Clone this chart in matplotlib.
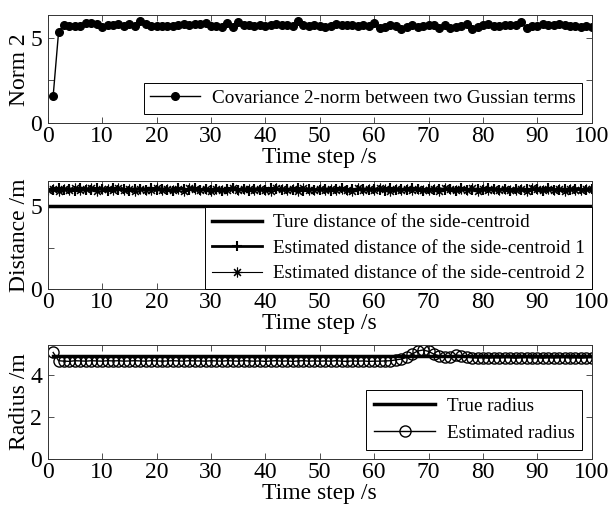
import matplotlib
matplotlib.use("Agg")
import matplotlib.pyplot as plt

plt.rcParams['font.family'] = ['Liberation Serif', 'DejaVu Serif']

# 上: 两个高斯项之间的协方差 2-范数
norm_t = list(range(1, 101))
norm_vals = [1.60, 5.35, 5.75, 5.70, 5.70, 5.70, 5.85, 5.85, 5.80, 5.60,
             5.75, 5.75, 5.80, 5.65, 5.80, 5.70, 5.95, 5.80, 5.65, 5.70,
             5.70, 5.70, 5.70, 5.75, 5.80, 5.75, 5.80, 5.80, 5.85, 5.70,
             5.65, 5.60, 5.85, 5.60, 5.90, 5.75, 5.75, 5.70, 5.75, 5.70,
             5.75, 5.80, 5.75, 5.75, 5.70, 5.95, 5.75, 5.70, 5.75, 5.70,
             5.60, 5.70, 5.80, 5.75, 5.75, 5.75, 5.70, 5.75, 5.70, 5.85,
             5.55, 5.60, 5.75, 5.65, 5.50, 5.60, 5.75, 5.60, 5.65, 5.75,
             5.75, 5.55, 5.75, 5.55, 5.60, 5.65, 5.80, 5.50, 5.60, 5.75,
             5.80, 5.70, 5.70, 5.75, 5.75, 5.75, 5.90, 5.55, 5.70, 5.65,
             5.80, 5.75, 5.75, 5.80, 5.75, 5.70, 5.65, 5.60, 5.70, 5.60]

# 中: 边心距
dist_t = list(range(0, 101))
dist_true = [5.0] * 101
dist_est1 = [6.02, 5.95, 6.08, 5.98, 6.05, 5.92, 6.10, 6.00, 5.96, 6.07,
             6.03, 5.94, 6.09, 5.99, 6.04, 5.93, 6.06, 6.01, 5.97, 6.08,
             5.95, 6.05, 6.00, 5.92, 6.07, 6.02, 5.98, 6.10, 5.96, 6.04,
             5.99, 6.06, 5.94, 6.03, 6.08, 5.97, 6.01, 5.93, 6.05, 6.00,
             5.96, 6.09, 6.02, 5.95, 6.04, 5.98, 6.07, 5.94, 6.03, 6.00,
             5.97, 6.06, 5.93, 6.02, 6.08, 5.96, 6.01, 5.99, 6.05, 5.95,
             6.04, 6.00, 5.92, 6.07, 5.98, 6.03, 5.96, 6.09, 6.01, 5.94,
             6.05, 5.99, 6.06, 5.97, 6.02, 5.93, 6.08, 6.00, 5.95, 6.04,
             5.98, 6.07, 6.01, 5.96, 6.03, 5.94, 6.06, 5.99, 6.02, 5.97,
             6.05, 5.93, 6.08, 6.00, 5.96, 6.04, 5.98, 6.06, 6.01, 5.95,
             6.03]
dist_est2 = [5.97, 6.06, 5.93, 6.04, 5.99, 6.08, 5.95, 6.02, 6.07, 5.94,
             6.01, 6.05, 5.96, 6.09, 5.98, 6.03, 5.92, 6.06, 6.00, 5.97,
             6.08, 5.95, 6.03, 5.99, 6.05, 5.94, 6.07, 6.01, 5.96, 6.04,
             5.93, 6.06, 6.00, 5.98, 6.09, 5.95, 6.02, 6.05, 5.97, 6.03,
             5.99, 5.94, 6.07, 6.01, 5.96, 6.04, 5.92, 6.08, 6.00, 5.98,
             6.05, 5.97, 6.03, 5.95, 6.06, 6.00, 5.93, 6.07, 5.99, 6.02,
             5.96, 6.08, 6.01, 5.94, 6.04, 5.98, 6.06, 5.95, 6.03, 6.00,
             5.97, 6.05, 5.93, 6.07, 6.02, 5.96, 6.04, 5.99, 6.08, 5.94,
             6.01, 5.98, 6.06, 5.95, 6.03, 6.00, 5.97, 6.05, 5.92, 6.07,
             6.02, 5.96, 6.04, 5.99, 6.06, 5.94, 6.03, 6.00, 5.97, 6.05,
             6.01]

# 下: 半径
rad_t = list(range(1, 101))
rad_true = [4.9] * 100
rad_est = [5.05, 4.66, 4.64, 4.63, 4.66, 4.65, 4.64, 4.66, 4.65, 4.64,
           4.66, 4.65, 4.66, 4.64, 4.65, 4.66, 4.65, 4.64, 4.66, 4.65,
           4.64, 4.65, 4.66, 4.65, 4.64, 4.66, 4.65, 4.65, 4.64, 4.66,
           4.65, 4.64, 4.66, 4.65, 4.64, 4.66, 4.65, 4.64, 4.65, 4.63,
           4.65, 4.66, 4.64, 4.65, 4.63, 4.65, 4.66, 4.64, 4.65, 4.64,
           4.65, 4.64, 4.66, 4.64, 4.63, 4.65, 4.64, 4.65, 4.63, 4.64,
           4.64, 4.65, 4.66, 4.70, 4.74, 4.82, 4.98, 5.12, 5.17, 5.10,
           4.97, 4.88, 4.84, 4.86, 4.93, 4.90, 4.84, 4.80, 4.79, 4.80,
           4.78, 4.80, 4.79, 4.81, 4.80, 4.78, 4.80, 4.81, 4.79, 4.80,
           4.78, 4.80, 4.79, 4.80, 4.81, 4.79, 4.80, 4.78, 4.80, 4.81]

x_ticks = list(range(0, 101, 10))

fig = plt.figure(figsize=(6.12, 5.09), dpi=100)
ax1 = fig.add_axes([0.078, 0.758, 0.889, 0.212])
ax2 = fig.add_axes([0.078, 0.432, 0.889, 0.212])
ax3 = fig.add_axes([0.078, 0.098, 0.889, 0.224])

FS = 17
LEG_FS = 13.8


def style_axes(ax, ylim, yticks, ylabels, ylabel):
    ax.set_xlim(0, 100)
    ax.set_ylim(*ylim)
    ax.set_xticks(x_ticks)
    ax.set_yticks(yticks)
    ax.set_yticklabels(ylabels)
    ax.tick_params(direction='in', top=True, right=True, length=4, width=0.6,
                   labelsize=FS, color='#333333')
    ax.tick_params(axis='x', pad=2)
    ax.tick_params(axis='y', pad=4)
    for sp in ax.spines.values():
        sp.set_linewidth(0.7)
        sp.set_color('#333333')
    ax.set_xlabel('Time step /s', fontsize=FS, labelpad=0)
    ax.set_ylabel(ylabel, fontsize=FS, labelpad=0)


# 第一张图
ax1.plot(norm_t, norm_vals, '-o', color='black', lw=1.0, ms=5.5,
         label='Covariance 2-norm between two Gussian terms')
style_axes(ax1, (0, 6.3), [0, 2.5, 5], ['0', '', '5'], 'Norm 2')
leg = ax1.legend(loc='lower right', fontsize=LEG_FS, fancybox=False, edgecolor='black',
                 handlelength=2.6, borderaxespad=0.5, framealpha=1,
                 borderpad=0.35, handletextpad=0.6)
leg.get_frame().set_linewidth(0.7)

# 第二张图
ax2.plot(dist_t, dist_true, '-', color='black', lw=2.5,
         label='Ture distance of the side-centroid')
ax2.plot(dist_t, dist_est1, '-+', color='black', lw=2.0, ms=7, mew=1.5,
         label='Estimated distance of the side-centroid 1')
ax2.plot(dist_t, dist_est2, '-', marker=(8, 2, 0), color='black', lw=0.8, ms=7, mew=0.8,
         label='Estimated distance of the side-centroid 2')
style_axes(ax2, (0, 6.5), [0, 2.5, 5], ['0', '', '5'], 'Distance /m')
leg = ax2.legend(loc='lower right', fontsize=LEG_FS, fancybox=False, edgecolor='black',
                 handlelength=2.6, borderaxespad=0.0, framealpha=1, labelspacing=0.42,
                 borderpad=0.35, handletextpad=0.6)
leg.get_frame().set_linewidth(0.7)

# 第三张图
ax3.plot(rad_t, rad_true, '-', color='black', lw=2.5, label='True radius')
ax3.plot(rad_t, rad_est, '-o', color='black', lw=1.0, ms=8, mfc='none', mew=1.0,
         label='Estimated radius')
style_axes(ax3, (0, 5.4), [0, 2, 4], ['0', '2', '4'], 'Radius /m')
leg = ax3.legend(loc='lower right', fontsize=LEG_FS, fancybox=False, edgecolor='black',
                 handlelength=3.2, borderaxespad=0.5, framealpha=1, labelspacing=0.5,
                 borderpad=0.4, handletextpad=0.6)
leg.get_frame().set_linewidth(0.7)

fig.savefig('out.png', dpi=100)
